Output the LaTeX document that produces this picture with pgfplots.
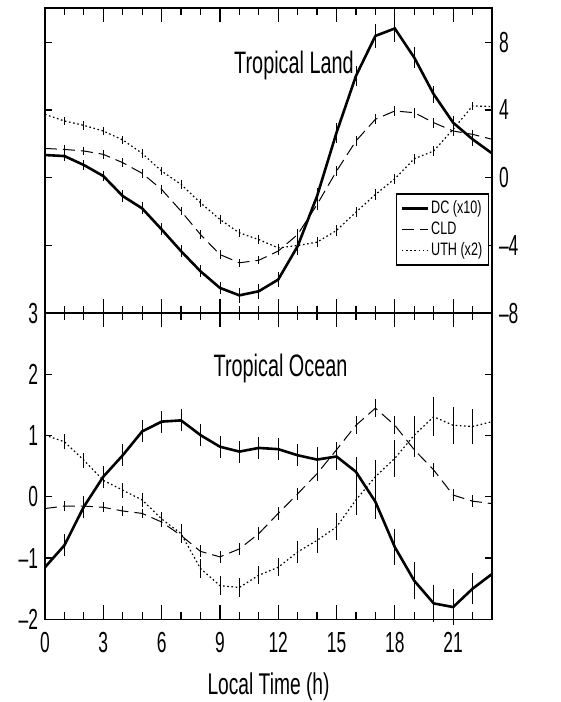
\documentclass[border=0pt]{standalone}
\usepackage{fontspec}
\setmainfont{Liberation Sans}[FakeStretch=0.64]
\newfontfamily\tickfont{Liberation Sans}[FakeStretch=0.6, Ligatures=TeX]
\newfontfamily\legfont{Liberation Sans}[FakeStretch=0.7, Ligatures=TeX]
\usepackage{pgfplots}
\usepackage{pgfplotstable}
\pgfplotsset{compat=1.18}

\pgfplotstableread{
h dc cld uth edc ecld euth
0 1.34 1.73 3.74 0.30 0.25 0.25
1 1.28 1.67 3.35 0.30 0.25 0.25
2 0.75 1.58 3.09 0.30 0.25 0.25
3 0.10 1.38 2.76 0.30 0.25 0.25
4 -1.08 0.89 2.23 0.35 0.25 0.25
5 -1.81 0.26 1.44 0.35 0.25 0.25
6 -3.05 -0.69 0.39 0.35 0.25 0.25
7 -4.33 -1.97 -0.39 0.35 0.25 0.25
8 -5.52 -3.35 -1.48 0.35 0.25 0.25
9 -6.50 -4.53 -2.46 0.35 0.25 0.25
10 -6.94 -5.02 -3.25 0.45 0.25 0.25
11 -6.70 -4.87 -3.65 0.45 0.25 0.25
12 -6.01 -4.33 -4.14 0.45 0.25 0.25
13 -4.04 -3.35 -4.00 0.50 0.30 0.30
14 -1.08 -1.58 -3.80 0.50 0.30 0.30
15 2.66 0.39 -3.11 0.60 0.30 0.30
16 6.01 2.17 -2.03 0.60 0.30 0.30
17 8.37 3.45 -0.99 0.70 0.30 0.30
18 8.81 3.94 -0.06 0.80 0.30 0.30
19 7.09 3.84 1.12 0.60 0.30 0.30
20 4.93 3.25 1.58 0.50 0.30 0.30
21 3.25 2.76 2.86 0.40 0.30 0.30
22 2.27 2.56 4.24 0.40 0.25 0.25
23 1.44 2.27 4.20 0.40 0.25 0.25
}\landtab

\pgfplotstableread{
h dc cld uth edc ecld euth
0 -1.15 -0.19 1.01 0.18 0.08 0.12
1 -0.79 -0.15 0.90 0.18 0.08 0.12
2 -0.16 -0.15 0.60 0.18 0.08 0.12
3 0.33 -0.17 0.27 0.18 0.08 0.12
4 0.68 -0.23 0.11 0.18 0.08 0.12
5 1.07 -0.27 -0.05 0.18 0.08 0.12
6 1.23 -0.41 -0.36 0.18 0.08 0.12
7 1.25 -0.63 -0.60 0.18 0.10 0.15
8 1.01 -0.89 -1.17 0.18 0.10 0.15
9 0.82 -0.98 -1.45 0.18 0.10 0.15
10 0.74 -0.85 -1.48 0.18 0.10 0.15
11 0.80 -0.60 -1.28 0.18 0.10 0.15
12 0.78 -0.27 -1.15 0.18 0.10 0.15
13 0.68 0.05 -0.90 0.18 0.10 0.18
14 0.61 0.38 -0.71 0.20 0.12 0.20
15 0.66 0.77 -0.49 0.22 0.12 0.22
16 0.41 1.17 -0.05 0.25 0.15 0.25
17 -0.08 1.45 0.33 0.28 0.15 0.28
18 -0.82 1.17 0.63 0.30 0.15 0.30
19 -1.37 0.77 1.01 0.30 0.12 0.32
20 -1.74 0.44 1.31 0.30 0.12 0.32
21 -1.80 0.03 1.17 0.30 0.10 0.30
22 -1.50 -0.07 1.15 0.25 0.10 0.28
23 -1.26 -0.11 1.23 0.25 0.10 0.25
}\oceantab

\pgfplotsset{
  panel/.style={
    scale only axis, width=223.5pt,
    xmin=0, xmax=23,
    tick align=inside,
    axis line style={line width=0.8pt},
    tick style={line width=0.6pt, black},
    major tick length=3.5pt, minor tick length=3.5pt,
    xtick={0,3,...,21},
    minor xtick={0,...,23},
    extra x ticks={0,3,...,21},
    extra x tick labels={},
    extra x tick style={major tick length=7pt},
    tick label style={font=\tickfont\fontsize{14.5}{16}\selectfont},
    xticklabel style={yshift=-3pt},
    clip=false,
  },
  dcstyle/.style={black, line width=1.3pt},
  cldstyle/.style={black, line width=0.5pt, dash pattern=on 6pt off 3pt},
  uthstyle/.style={black, line width=0.6pt, dash pattern=on 0.8pt off 1.3pt},
  ebar/.style={error bars/.cd, y dir=both, y explicit, error mark=none,
    error bar style={line width=0.4pt, solid}},
}

\begin{document}
\begin{tikzpicture}
\useasboundingbox (-22.5pt,-41.35pt) rectangle (258pt,309.65pt);

\begin{axis}[panel, at={(0pt,0pt)}, anchor=south west, height=153pt,
  ymin=-2, ymax=3,
  ytick={-2,-1,0,1,2,3},
  yticklabels={\textendash2,\textendash1,0,1,2,3},
  xticklabels={0,3,6,9,12,15,18,21},
  xlabel={Local Time (h)},
  xlabel style={font=\fontsize{15}{17}\selectfont, yshift=-3pt},
]
\addplot[dcstyle, ebar] table[x=h, y=dc, y error=edc] {\oceantab};
\addplot[cldstyle, ebar] table[x=h, y=cld, y error=ecld] {\oceantab};
\addplot[uthstyle, ebar] table[x=h, y=uth, y error=euth] {\oceantab};
\node[font=\fontsize{15.5}{18}\selectfont] at (rel axis cs:0.527,0.821) {Tropical Ocean};
\end{axis}

\begin{axis}[panel, at={(0pt,153pt)}, anchor=south west, height=152.5pt,
  ymin=-8, ymax=10,
  ytick={-8,-4,0,4,8},
  yticklabels={\textendash8,\textendash4,0,4,8},
  yticklabel pos=right,
  xticklabels={},
  legend style={at={(0.993,0.393)}, anchor=north east, draw=black,
    line width=0.6pt, font=\legfont\fontsize{9}{10}\selectfont,
    row sep=0pt, inner sep=2pt, cells={anchor=west},
    nodes={inner sep=1pt, text height=6.5pt, text depth=2pt}},
  legend image code/.code={\draw[#1] (0pt,0pt) -- (13pt,0pt);},
]
\addplot[dcstyle, ebar] table[x=h, y=dc, y error=edc] {\landtab};
\addlegendentry{DC (x10)}
\addplot[cldstyle, ebar] table[x=h, y=cld, y error=ecld] {\landtab};
\addlegendentry{CLD}
\addplot[uthstyle, ebar] table[x=h, y=uth, y error=euth] {\landtab};
\addlegendentry{UTH (x2)}
\node[font=\fontsize{15.5}{18}\selectfont] at (rel axis cs:0.557,0.811) {Tropical Land};
\end{axis}
\end{tikzpicture}
\end{document}
